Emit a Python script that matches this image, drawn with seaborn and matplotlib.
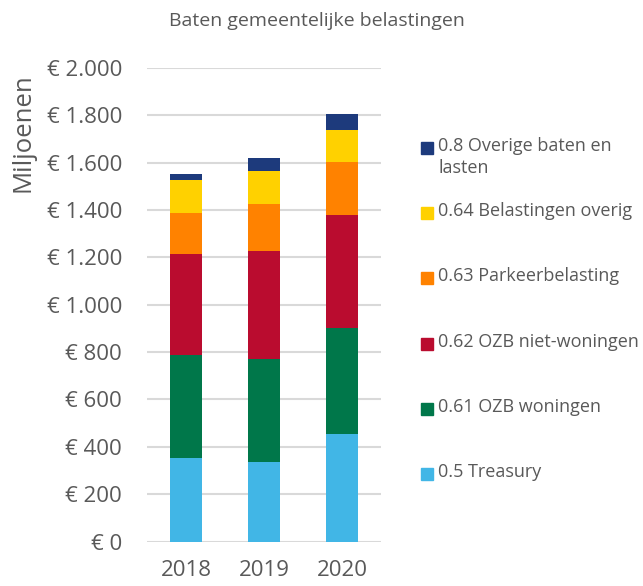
import pandas as pd
import matplotlib.pyplot as plt
import matplotlib.patches as mpatches
import seaborn as sns

# data (miljoenen euro)
years = ['2018', '2019', '2020']
series = ['0.5 Treasury', '0.61 OZB woningen', '0.62 OZB niet-woningen',
          '0.63 Parkeerbelasting', '0.64 Belastingen overig', '0.8 Overige baten en lasten']
treasury = [354, 336, 454]
ozb_woningen = [434, 435, 447]
ozb_niet_woningen = [428, 458, 476]
parkeerbelasting = [173, 198, 228]
belastingen_overig = [136, 137, 135]
overige_baten = [28, 56, 66]
colors = ['#41B6E6', '#00774A', '#BA0C2F', '#FF8200', '#FFD100', '#1D3A7C']
legend_labels = ['0.8 Overige baten en\nlasten', '0.64 Belastingen overig', '0.63 Parkeerbelasting',
                 '0.62 OZB niet-woningen', '0.61 OZB woningen', '0.5 Treasury']

sns.set_style('white')
plt.rcParams['font.family'] = ['Open Sans', 'DejaVu Sans']
grey = '#595959'

values = [treasury, ozb_woningen, ozb_niet_woningen, parkeerbelasting, belastingen_overig, overige_baten]
df = pd.DataFrame(dict(zip(series, values)), index=years)
cum = df.cumsum(axis=1)

fig = plt.figure(figsize=(6.43, 5.86), dpi=100)
ax = fig.add_axes([0.2286, 0.0759, 0.3639, 0.8081])

# stacked bars: draw cumulative totals from the top layer down
for s, c in reversed(list(zip(series, colors))):
    d = pd.DataFrame({'jaar': years, 'waarde': cum[s].values})
    sns.barplot(data=d, x='jaar', y='waarde', color=c, width=0.4, ax=ax,
                saturation=1, linewidth=0, zorder=3)

ax.set_ylim(0, 2000)
ax.set_yticks(range(0, 2001, 200))
ax.set_yticklabels(['€ ' + f'{v:,}'.replace(',', '.') for v in range(0, 2001, 200)])
ax.grid(axis='y', color='#D9D9D9', linewidth=1.5, zorder=0)
ax.set_axisbelow(True)
sns.despine(ax=ax, left=True, bottom=True)
ax.tick_params(axis='y', labelsize=16, colors=grey, length=0, pad=18)
ax.tick_params(axis='x', labelsize=16, colors=grey, length=0, pad=13)
ax.set_xlabel('')
ax.set_ylabel('')

fig.text(0.493, 0.965, 'Baten gemeentelijke belastingen', ha='center', va='center',
         fontsize=14, color=grey)
fig.text(0.036, 0.773, 'Miljoenen', rotation=90, ha='center', va='center',
         fontsize=18.5, color=grey)

# legend on the right, one entry per series
legend_colors = list(reversed(colors))
for i, (lab, c) in enumerate(zip(legend_labels, legend_colors)):
    ytop = 142 + i * 65.2
    fig.add_artist(mpatches.Rectangle((421 / 643, 1 - (ytop + 12) / 586), 12 / 643, 12 / 586,
                                      color=c, transform=fig.transFigure))
    fig.text(438 / 643, 1 - (ytop - 5) / 586, lab, ha='left', va='top',
             fontsize=13, color=grey, linespacing=1.3)

plt.savefig('out.png', dpi=100)
